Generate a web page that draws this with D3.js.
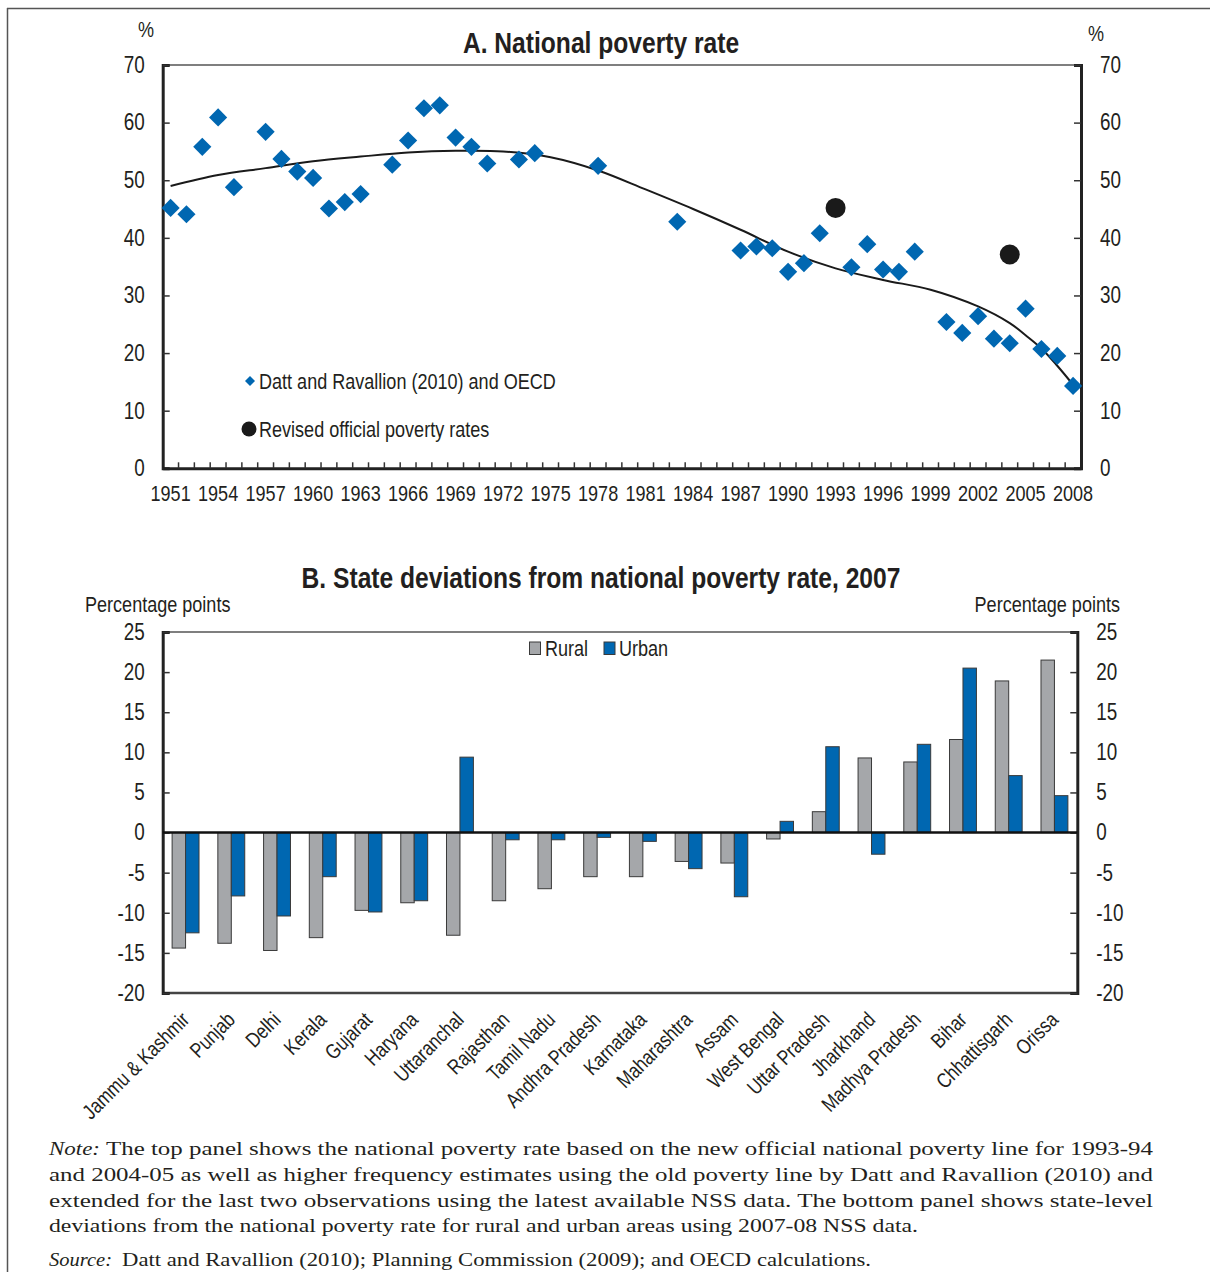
<!DOCTYPE html>
<html><head><meta charset="utf-8">
<script src="https://cdn.jsdelivr.net/npm/d3@7"></script>
<style>
html,body{margin:0;padding:0;background:#fff;}
svg{display:block;}
</style></head>
<body>
<script>
// ---------- DATA ----------
// Panel A
const dattYears = [1951,1952,1953,1954,1955,1957,1958,1959,1960,1961,1962,1963,1965,1966,1967,1968,1969,1970,1971,1973,1974,1978,1983,1987,1988,1989,1990,1991,1992,1994,1995,1996,1997,1998,2000,2001,2002,2003,2004,2005,2006,2007,2008];
const dattValues = [45.2,44.1,55.8,60.9,48.8,58.4,53.7,51.5,50.4,45.1,46.2,47.6,52.7,56.9,62.5,63.0,57.4,55.8,52.9,53.6,54.7,52.5,42.8,37.8,38.5,38.2,34.1,35.6,40.8,34.9,38.9,34.5,34.1,37.6,25.4,23.5,26.4,22.5,21.7,27.7,20.7,19.5,14.3];
const officialYears = [1993,2004];
const officialValues = [45.2,37.1];
const trendYears = [1951,1954,1957,1960,1963,1966,1969,1972,1975,1978,1981,1984,1987,1990,1993,1996,1999,2002,2004,2005,2006,2007,2008];
const trendValues = [49.0,50.9,52.1,53.3,54.1,54.8,55.1,55.0,54.0,51.7,48.4,45.0,41.4,37.6,34.7,32.7,31.0,28.1,25.2,23.1,20.8,17.8,14.5];
const yearLabels = [1951,1954,1957,1960,1963,1966,1969,1972,1975,1978,1981,1984,1987,1990,1993,1996,1999,2002,2005,2008];
const pctTicks = [0,10,20,30,40,50,60,70];

// Panel B
const states = ["Jammu & Kashmir","Punjab","Delhi","Kerala","Gujarat","Haryana","Uttaranchal","Rajasthan","Tamil Nadu","Andhra Pradesh","Karnataka","Maharashtra","Assam","West Bengal","Uttar Pradesh","Jharkhand","Madhya Pradesh","Bihar","Chhattisgarh","Orissa"];
const rural = [-14.4,-13.8,-14.7,-13.1,-9.7,-8.75,-12.8,-8.5,-7.0,-5.5,-5.5,-3.6,-3.8,-0.8,2.6,9.3,8.8,11.6,18.9,21.5];
const urban = [-12.5,-7.9,-10.4,-5.5,-9.9,-8.5,9.4,-0.9,-0.9,-0.6,-1.1,-4.5,-8.0,1.4,10.7,-2.7,11.0,20.5,7.1,4.6];
const ppTicks = [-20,-15,-10,-5,0,5,10,15,20,25];
const seriesNames = ["Rural","Urban"];

// ---------- STYLE ----------
const W = 1210, H = 1272;
const SANS = "'Liberation Sans',Arial,sans-serif";
const SERIF = "'Liberation Serif','DejaVu Serif',serif";
const TXT = "#231f20";
const BLUE = "#0067b1";
const GREY = "#a5a7aa";
const fmt = d => String(d);

const svg = d3.select("body").append("svg").attr("width", W).attr("height", H)
  .style("font-family", SANS);

// page frame
svg.append("line").attr("x1",7).attr("x2",W).attr("y1",8.5).attr("y2",8.5).attr("stroke","#555").attr("stroke-width",1.5);
svg.append("line").attr("x1",7.5).attr("x2",7.5).attr("y1",8).attr("y2",H).attr("stroke","#555").attr("stroke-width",1.5);

const main = svg.append("g").attr("class","narrow");

// ---------- PANEL A ----------
const A = {l:162.7, r:1081, t:65, b:468.3};
const xA = d3.scaleBand().domain(d3.range(1951, 2009)).range([A.l, A.r]).padding(0);
const yA = d3.scaleLinear().domain([0,70]).range([A.b, A.t]);
const cx = yr => xA(yr) + xA.bandwidth()/2;

main.append("text").attr("x",601).attr("y",53).attr("text-anchor","middle")
  .attr("font-size",30).attr("font-weight","bold").attr("fill",TXT).text("A. National poverty rate");
main.append("text").attr("x",146).attr("y",37).attr("text-anchor","middle").attr("font-size",22).attr("fill",TXT).text("%");
main.append("text").attr("x",1096).attr("y",41).attr("text-anchor","middle").attr("font-size",22).attr("fill",TXT).text("%");

const gA = main.append("g");
gA.append("line").attr("x1",A.l).attr("x2",A.r).attr("y1",A.t).attr("y2",A.t).attr("stroke","#555").attr("stroke-width",1.5);
const axL = gA.append("g").attr("transform",`translate(${A.l},0)`)
  .call(d3.axisLeft(yA).tickValues(pctTicks).tickSize(-7).tickPadding(18).tickFormat(fmt));
const axR = gA.append("g").attr("transform",`translate(${A.r},0)`)
  .call(d3.axisRight(yA).tickValues(pctTicks).tickSize(-7).tickPadding(19).tickFormat(fmt));
const axB = gA.append("g").attr("transform",`translate(0,${A.b})`)
  .call(d3.axisBottom(xA).tickValues(yearLabels).tickSize(0).tickPadding(17).tickFormat(fmt));
[axL,axR,axB].forEach(a=>{
  a.selectAll("text").attr("font-size",23).attr("fill",TXT).style("font-family",SANS);
  a.select(".domain").attr("stroke","#222").attr("stroke-width",3);
  a.selectAll(".tick line").attr("stroke","#333").attr("stroke-width",1.5);
});
axB.selectAll("text").attr("font-size",22);
gA.append("g").selectAll("line").data(d3.range(1951,2008)).join("line")
  .attr("x1",d=>xA(d)+xA.bandwidth()).attr("x2",d=>xA(d)+xA.bandwidth())
  .attr("y1",A.b).attr("y2",A.b-6).attr("stroke","#333").attr("stroke-width",1.5);

const trend = trendYears.map((y,i)=>[cx(y), yA(trendValues[i])]);
gA.append("path").attr("d", d3.line().curve(d3.curveCatmullRom.alpha(0.5))(trend))
  .attr("fill","none").attr("stroke","#1a1a1a").attr("stroke-width",2);

const diamond = d3.symbol().type(d3.symbolSquare).size(165);
gA.append("g").selectAll("path").data(dattYears).join("path")
  .attr("d", diamond())
  .attr("transform",(d,i)=>`translate(${cx(d)},${yA(dattValues[i])}) rotate(45)`)
  .attr("fill",BLUE);
gA.append("g").selectAll("circle").data(officialYears).join("circle")
  .attr("cx",d=>cx(d)).attr("cy",(d,i)=>yA(officialValues[i])).attr("r",10).attr("fill","#1a1a1a");

// legend A
main.append("path").attr("d", d3.symbol().type(d3.symbolSquare).size(50)())
  .attr("transform","translate(250,381) rotate(45)").attr("fill",BLUE);
main.append("text").attr("x",259).attr("y",389).attr("font-size",22).attr("fill",TXT).text("Datt and Ravallion (2010) and OECD");
main.append("circle").attr("cx",249).attr("cy",429).attr("r",7.5).attr("fill","#1a1a1a");
main.append("text").attr("x",259).attr("y",437).attr("font-size",22).attr("fill",TXT).text("Revised official poverty rates");

// ---------- PANEL B ----------
const B = {l:162.7, r:1077.3, t:632, b:993};
const xB = d3.scaleBand().domain(states).range([B.l, B.r]).paddingInner(0).paddingOuter(0);
const xS = d3.scaleBand().domain(seriesNames).range([0, xB.bandwidth()]).paddingInner(0).paddingOuter(0.7);
const yB = d3.scaleLinear().domain([-20,25]).range([B.b, B.t]);

main.append("text").attr("x",601).attr("y",588).attr("text-anchor","middle")
  .attr("font-size",30).attr("font-weight","bold").attr("fill",TXT).text("B. State deviations from national poverty rate, 2007");
main.append("text").attr("x",85).attr("y",612).attr("font-size",22).attr("fill",TXT).text("Percentage points");
main.append("text").attr("x",1120).attr("y",612).attr("text-anchor","end").attr("font-size",22).attr("fill",TXT).text("Percentage points");

const gB = main.append("g");
gB.append("line").attr("x1",B.l).attr("x2",B.r).attr("y1",B.t).attr("y2",B.t).attr("stroke","#555").attr("stroke-width",1.5);
gB.append("line").attr("x1",B.l).attr("x2",B.r).attr("y1",B.b).attr("y2",B.b).attr("stroke","#444").attr("stroke-width",2.5);
const bL = gB.append("g").attr("transform",`translate(${B.l},0)`)
  .call(d3.axisLeft(yB).tickValues(ppTicks).tickSize(-7).tickPadding(18).tickFormat(fmt));
const bR = gB.append("g").attr("transform",`translate(${B.r},0)`)
  .call(d3.axisRight(yB).tickValues(ppTicks).tickSize(-7).tickPadding(19).tickFormat(fmt));
[bL,bR].forEach(a=>{
  a.selectAll("text").attr("font-size",23).attr("fill",TXT).style("font-family",SANS);
  a.select(".domain").attr("stroke","#222").attr("stroke-width",3);
  a.selectAll(".tick line").attr("stroke","#333").attr("stroke-width",1.5);
});

const barData = [];
states.forEach((s,i)=>{
  barData.push({s, k:"Rural", v:rural[i]});
  barData.push({s, k:"Urban", v:urban[i]});
});
gB.append("g").selectAll("rect").data(barData).join("rect")
  .attr("x",d=>xB(d.s)+xS(d.k)).attr("width",xS.bandwidth())
  .attr("y",d=>yB(Math.max(0,d.v))).attr("height",d=>Math.abs(yB(d.v)-yB(0)))
  .attr("fill",d=>d.k==="Rural"?GREY:BLUE).attr("stroke","#3a3a3a").attr("stroke-width",1);
gB.append("line").attr("x1",B.l).attr("x2",B.r).attr("y1",yB(0)).attr("y2",yB(0)).attr("stroke","#111").attr("stroke-width",2.5);

gB.append("g").selectAll("text").data(states).join("text")
  .attr("transform",d=>`translate(${xB(d)+xB.bandwidth()/2+5},1021) rotate(-45)`)
  .attr("text-anchor","end").attr("font-size",21).attr("fill",TXT).text(d=>d);

// legend B
const lg = main.append("g");
lg.append("rect").attr("x",529.5).attr("y",642).attr("width",11).attr("height",12.5).attr("fill",GREY).attr("stroke","#3a3a3a");
lg.append("text").attr("x",545).attr("y",656).attr("font-size",22).attr("fill",TXT).text(seriesNames[0]);
lg.append("rect").attr("x",604).attr("y",642).attr("width",11).attr("height",12.5).attr("fill",BLUE).attr("stroke","#3a3a3a");
lg.append("text").attr("x",619).attr("y",656).attr("font-size",22).attr("fill",TXT).text(seriesNames[1]);

// condense all sans text to ~82% width (Arial Narrow proportions)
main.selectAll("text").each(function(){
  const len = this.getComputedTextLength();
  if (len > 0) d3.select(this).attr("textLength", len*0.82).attr("lengthAdjust","spacingAndGlyphs");
});

// ---------- NOTES ----------
const notes = svg.append("g").style("font-family",SERIF).attr("fill",TXT).attr("font-size",19);
notes.append("text").attr("x",49).attr("y",1155).attr("font-style","italic").attr("textLength",51).attr("lengthAdjust","spacingAndGlyphs").text("Note:");
const noteLines = [
  {x:106, y:1155, w:1153-106, t:"The top panel shows the national poverty rate based on the new official national poverty line for 1993-94"},
  {x:49, y:1181, w:1153-49, t:"and 2004-05 as well as higher frequency estimates using the old poverty line by Datt and Ravallion (2010) and"},
  {x:49, y:1207, w:1153-49, t:"extended for the last two observations using the latest available NSS data. The bottom panel shows state-level"},
  {x:49, y:1232, w:918-49, t:"deviations from the national poverty rate for rural and urban areas using 2007-08 NSS data."},
  {x:122, y:1266, w:871-122, t:"Datt and Ravallion (2010); Planning Commission (2009); and OECD calculations."}
];
noteLines.forEach(l=>{
  notes.append("text").attr("x",l.x).attr("y",l.y).attr("textLength",l.w).attr("lengthAdjust","spacingAndGlyphs").text(l.t);
});
notes.append("text").attr("x",49).attr("y",1266).attr("font-style","italic").attr("textLength",63).attr("lengthAdjust","spacingAndGlyphs").text("Source:");
</script>
</body></html>
